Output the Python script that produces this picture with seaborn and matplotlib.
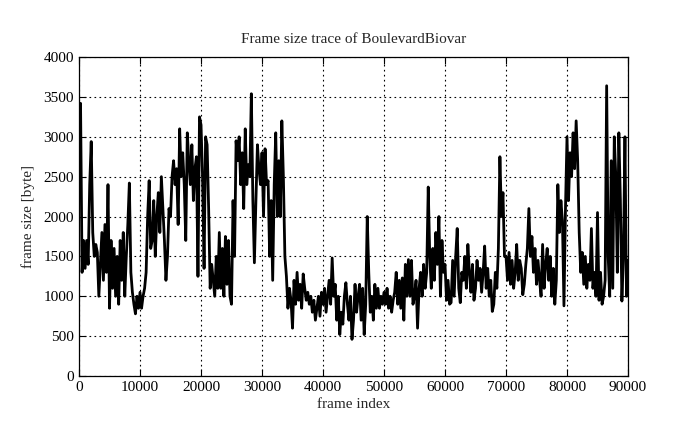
import numpy as np
import pandas as pd
import matplotlib
matplotlib.use('Agg')
import matplotlib.pyplot as plt
import seaborn as sns

sns.set_style('ticks')
plt.rcParams['font.family'] = ['Liberation Serif', 'DejaVu Serif']

# frame size, one value every 250 frames
frame_size = [
    3000, 3420, 1300, 1700, 1350, 1700, 1400, 2400, 2940, 1800, 1500, 1650,
    1550, 1000, 1400, 1800, 1200, 1900, 1300, 2400, 850, 1700, 1100, 1600,
    1000, 1500, 900, 1700, 1200, 1800, 1000, 1500, 1900, 2420, 1300, 1050,
    900, 780, 1000, 850, 1050, 850, 1000, 1100, 1300, 2000, 2450, 1600,
    1700, 2200, 1500, 2000, 2300, 1800, 2500, 2100, 1700, 1200, 1500, 2100,
    2000, 2500, 2700, 2400, 2600, 1900, 3100, 2500, 2800, 2400, 1700, 3050,
    2700, 2400, 2900, 2200, 2600, 2750, 1250, 3250, 3150, 2500, 1350, 3000,
    2900, 2100, 1100, 1400, 1200, 1000, 1500, 1100, 1800, 1100, 1600, 1000,
    1750, 1150, 1700, 1000, 900, 2200, 1500, 2950, 2700, 3000, 2400, 2800,
    2100, 3100, 2400, 2650, 2500, 3540, 2200, 1420, 2200, 2900, 2600, 2400,
    2800, 2000, 2850, 2400, 2450, 1500, 2200, 1200, 2400, 3050, 2000, 2700,
    2000, 3200, 2500, 1500, 1250, 850, 1100, 950, 600, 1200, 900, 1300,
    950, 1150, 850, 1280, 1100, 950, 1050, 900, 1000, 800, 950, 700,
    850, 1000, 750, 1050, 900, 1100, 800, 1000, 1200, 900, 1480, 1000,
    1150, 700, 1000, 520, 800, 650, 1000, 1170, 900, 700, 1000, 460,
    700, 1150, 800, 1000, 1150, 700, 1100, 520, 900, 2000, 1300, 800,
    1000, 700, 1150, 850, 1100, 850, 1000, 900, 1050, 900, 1100, 850,
    1000, 800, 950, 1050, 1300, 900, 1200, 850, 1230, 700, 1400, 1000,
    1460, 1000, 1450, 900, 1000, 1200, 600, 1100, 1300, 1000, 1400, 1100,
    1300, 2370, 1500, 1100, 1600, 1200, 1800, 1400, 2000, 1000, 1700, 1300,
    1400, 950, 1200, 900, 920, 1450, 1000, 1500, 1850, 1100, 920, 1300,
    1200, 1500, 1100, 1650, 1300, 1050, 1400, 950, 1100, 1450, 1200, 1350,
    1050, 1300, 1630, 1100, 1350, 1000, 1200, 810, 900, 1300, 1100, 1600,
    2750, 2000, 2300, 1500, 1500, 1200, 1550, 1150, 1450, 1100, 1300, 1650,
    1200, 1450, 1350, 1020, 1150, 1400, 1600, 2100, 1500, 1750, 1300, 1600,
    1150, 1450, 1200, 1000, 1650, 1100, 1400, 1600, 1200, 1500, 1000, 1350,
    900, 1200, 2400, 1800, 2200, 1950, 880, 2100, 3000, 2200, 2800, 2500,
    3050, 2600, 3200, 2700, 1800, 1300, 1550, 1150, 1500, 1100, 1400, 1200,
    1850, 1100, 1300, 1000, 2050, 950, 1300, 900, 1000, 1200, 3640, 1500,
    1000, 2700, 1100, 3000, 2500, 1300, 3050, 2200, 940, 1500, 3000, 1000,
    1450,
]
frame_index = np.arange(0, 90001, 250)

x_ticks = [0, 10000, 20000, 30000, 40000, 50000, 60000, 70000, 80000, 90000]
y_ticks = [0, 500, 1000, 1500, 2000, 2500, 3000, 3500, 4000]

df = pd.DataFrame({'frame': frame_index, 'size': frame_size})

fig = plt.figure(figsize=(6.95, 4.29), dpi=100)
ax = fig.add_axes([0.1137, 0.1235, 0.7899, 0.7435])
sns.lineplot(data=df, x='frame', y='size', ax=ax, color='black',
             linewidth=2.0, estimator=None)

ax.set_xlim(0, 90000)
ax.set_ylim(0, 4000)
ax.set_xticks(x_ticks)
ax.set_yticks(y_ticks)
ax.grid(True, color='black', linestyle=(0, (1.5, 3)), linewidth=0.8)
ax.tick_params(direction='in', top=True, right=True, length=5,
               labelsize=11, width=0.8, colors='black')
for s in ax.spines.values():
    s.set_visible(True)
    s.set_linewidth(0.9)
    s.set_color('black')

ax.set_title('Frame size trace of BoulevardBiovar', fontsize=11, pad=10)
ax.set_xlabel('frame index', fontsize=11, labelpad=3)
ax.set_ylabel('frame size [byte]', fontsize=11, labelpad=6)

plt.savefig('out.png', dpi=100)
plt.close()
